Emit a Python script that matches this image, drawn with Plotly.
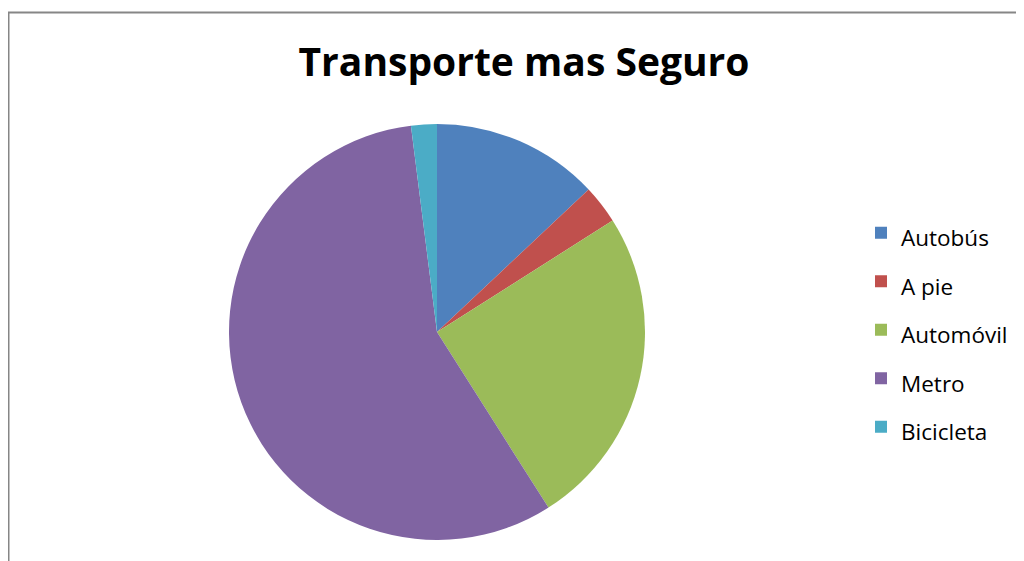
import plotly.graph_objects as go

categories = ["Autobús", "A pie", "Automóvil", "Metro", "Bicicleta"]
values = [13, 3, 25, 57, 2]
colors = ["#4F81BD", "#C0504D", "#9BBB59", "#8064A2", "#4BACC6"]

# page has an 8px body margin, so the figure is drawn 8px in from the top-left
W, H = 1016, 553
cx, cy, r = 429, 324, 208

legend_labels = [f"<span style='font-size:22.5px'>{c}</span>" for c in categories]

fig = go.Figure(go.Pie(
    labels=legend_labels,
    values=values,
    marker=dict(colors=colors, line=dict(width=0)),
    sort=False,
    direction="clockwise",
    rotation=0,
    textinfo="none",
    hoverinfo="value",
    domain=dict(x=[(cx - r) / W, (cx + r) / W], y=[1 - (cy + r) / H, 1 - (cy - r) / H]),
))

fig.update_layout(
    width=W, height=H,
    margin=dict(l=0, r=0, t=0, b=0),
    paper_bgcolor="white",
    title=dict(text="<b>Transporte mas Seguro</b>", x=516 / W, xanchor="center",
               y=1 - 54 / H, yanchor="middle",
               font=dict(family="Open Sans, Lato, sans-serif", size=39, color="black")),
    legend=dict(x=853 / W, xanchor="left", y=1 - 322 / H, yanchor="middle",
                font=dict(family="Open Sans, Lato, sans-serif", size=35, color="black"),
                itemwidth=30),
    shapes=[dict(type="rect", xref="paper", yref="paper",
                 x0=0.5 / W, x1=1.02, y0=-0.02, y1=1 - 4.5 / H,
                 line=dict(color="#868686", width=2))],
)

fig.write_html("out.html")
